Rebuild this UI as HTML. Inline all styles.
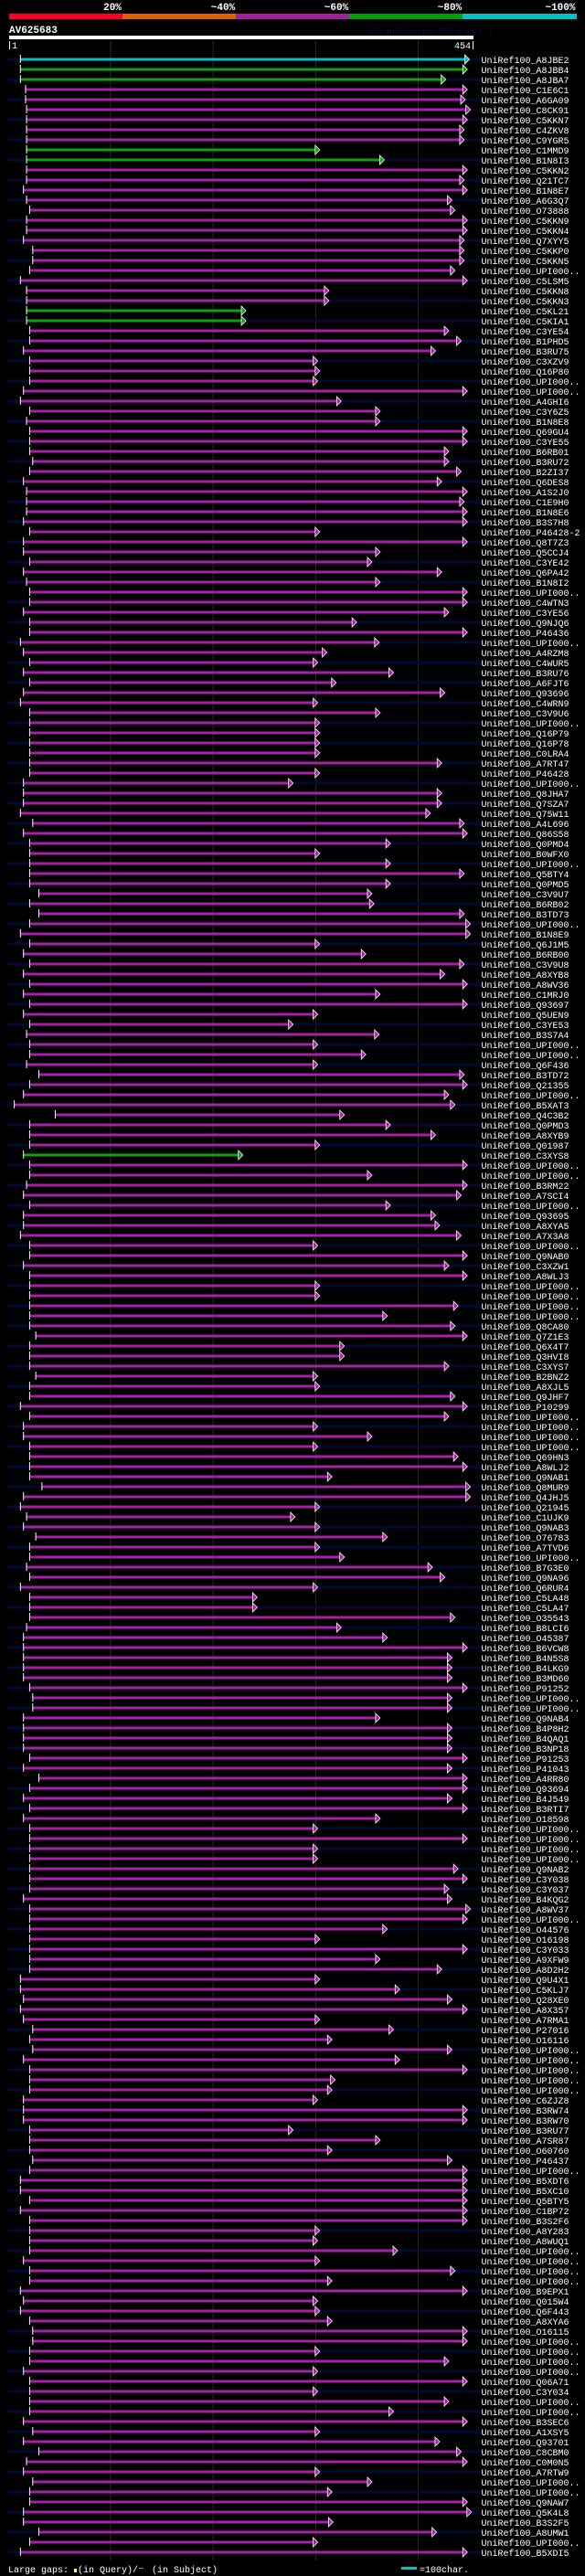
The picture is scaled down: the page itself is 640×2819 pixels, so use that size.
<!DOCTYPE html>
<html><head><meta charset="utf-8">
<style>
html,body{margin:0;padding:0;background:#000;}
body{width:640px;height:2819px;overflow:hidden;}
svg{display:block;}
text{font-family:"Liberation Mono",monospace;}
</style></head>
<body>
<svg id="chart" width="640" height="2819" viewBox="0 0 640 2819" xmlns="http://www.w3.org/2000/svg">
  <rect width="640" height="2819" fill="#000"/>
  <g>
    <rect x="10" y="15" width="124" height="6" fill="#ff0022"/>
    <rect x="134" y="15" width="124" height="6" fill="#e06000"/>
    <rect x="258" y="15" width="124" height="6" fill="#a020a0"/>
    <rect x="382" y="15" width="124" height="6" fill="#00a000"/>
    <rect x="506" y="15" width="125" height="6" fill="#00c0c8"/>
    <text x="123" y="11" fill="#fff" font-size="11" font-weight="bold" text-anchor="middle">20%</text>
    <text x="244" y="11" fill="#fff" font-size="11" font-weight="bold" text-anchor="middle">~40%</text>
    <text x="368" y="11" fill="#fff" font-size="11" font-weight="bold" text-anchor="middle">~60%</text>
    <text x="492" y="11" fill="#fff" font-size="11" font-weight="bold" text-anchor="middle">~80%</text>
    <text x="613" y="11" fill="#fff" font-size="11" font-weight="bold" text-anchor="middle">~100%</text>
  </g>
  <text x="10" y="36" fill="#fff" font-size="11" font-weight="bold">AV625683</text>
  <text x="402" y="37" fill="#0a0a44" font-size="10">AlignView.pm Beta rel.7</text>
  <rect x="10" y="39" width="508" height="4" fill="#fff"/>
  <rect x="10" y="45" width="1" height="9" fill="#fff"/>
  <text x="13" y="53" fill="#fff" font-size="10">1</text>
  <text x="515" y="53" fill="#fff" font-size="10" text-anchor="end">454</text>
  <rect x="517" y="45" width="1" height="9" fill="#fff"/>
  <g id="grid"></g>
  <g id="rows"></g>
  <g>
    <text x="9" y="2815" fill="#fff" font-size="10">Large gaps:</text>
    <rect x="81" y="2811" width="3" height="4" fill="#ffff66"/>
    <text x="85" y="2815" fill="#fff" font-size="10">(in Query)/</text>
    <rect x="152" y="2810" width="5" height="1" fill="#00c0c8"/>
    <text x="166" y="2815" fill="#fff" font-size="10">(in Subject)</text>
    <rect x="439" y="2809" width="17" height="3" fill="#00c0c8"/>
    <text x="459" y="2815" fill="#fff" font-size="10">=100char.</text>
  </g>
</svg>
<script>
const gridTicks = [100, 200, 300, 400];
const hitNames = ["A8JBE2","A8JBB4","A8JBA7","C1E6C1","A6GA09","C8CK91","C5KKN7","C4ZKV8","C9YGR5","C1MMD9","B1N8I3","C5KKN2","Q21TC7","B1N8E7","A6G3Q7","O73888","C5KKN9","C5KKN4","Q7XYY5","C5KKP0","C5KKN5","UPI000..","C5LSM5","C5KKN8","C5KKN3","C5KL21","C5KIA1","C3YE54","B1PHD5","B3RU75","C3XZV9",
"Q16P80","UPI000..","UPI000..","A4GHI6","C3Y6Z5","B1N8E8","Q69GU4","C3YE55","B6RB01","B3RU72","B2ZI37","Q6DES8","A1S2J0","C1E9H0","B1N8E6","B3S7H8","P46428-2","Q8T7Z3","Q5CCJ4","C3YE42","Q6PA42","B1N8I2","UPI000..","C4WTN3","C3YE56","Q9NJQ6","P46436",
"UPI000..","A4RZM8","C4WUR5","B3RU76","A6FJT6","Q93696","C4WRN9","C3V9U6","UPI000..","Q16P79","Q16P78","C0LRA4","A7RT47","P46428","UPI000..","Q8JHA7","Q7SZA7","Q75W11","A4L696","Q86S58","Q0PMD4","B0WFX0","UPI000..","Q5BTY4","Q0PMD5","C3V9U7",
"B6RB02","B3TD73","UPI000..","B1N8E9","Q6J1M5","B6RB00","C3V9U8","A8XYB8","A8WV36","C1MRJ0","Q93697","Q5UEN9","C3YE53","B3S7A4","UPI000..","UPI000..","Q6F436","B3TD72","Q21355","UPI000..","B5XAT3","Q4C3B2","Q0PMD3","A8XYB9","Q01987","C3XYS8",
"UPI000..","UPI000..","B3RM22","A7SCI4","UPI000..","Q93695","A8XYA5","A7X3A8","UPI000..","Q9NAB0","C3XZW1","A8WLJ3","UPI000..","UPI000..","UPI000..","UPI000..","Q8CA80","Q7Z1E3","Q6X4T7","Q3HVI8","C3XYS7","B2BNZ2","A8XJL5","Q9JHF7","P10299","UPI000..","UPI000..",
"UPI000..","UPI000..","Q69HN3","A8WLJ2","Q9NAB1","Q8MUR9","Q4JHJ5","Q21945","C1UJK9","Q9NAB3","O76783","A7TVD6","UPI000..","B7G3E0","Q9NA96","Q6RUR4","C5LA48","C5LA47","O35543","B8LCI6","O45387","B6VCW8","B4N5S8","B4LKG9","B3MD60","P91252",
"UPI000..","UPI000..","Q9NAB4","B4P8H2","B4QAQ1","B3NP18","P91253","P41043","A4RR80","Q93694","B4J549","B3RTI7","O18598","UPI000..","UPI000..","UPI000..","UPI000..","Q9NAB2","C3Y038","C3Y037","B4KQG2","A8WV37","UPI000..","O44576","O16198","C3Y033","A9XFW9",
"A8D2H2","Q9U4X1","C5KLJ7","Q28XE0","A8X357","A7RMA1","P27016","O16116","UPI000..","UPI000..","UPI000..","UPI000..","UPI000..","C6ZJZ8","B3RW74","B3RW70","B3RU77","A7SR87","O60760","P46437","UPI000..","B5XDT6","B5XC10","Q5BTY5","C1BP72","B3S2F6","A8Y283",
"A8WUQ1","UPI000..","UPI000..","UPI000..","UPI000..","B9EPX1","Q015W4","Q6F443","A8XYA6","O16115","UPI000..","UPI000..","UPI000..","UPI000..","Q06A71","C3Y034","UPI000..","UPI000..","B3SEC6","A1XSY5","Q93701","C8CBM0","C0M0N5","A7RTW9","UPI000..","UPI000..","Q9NAW7",
"Q5K4L8","B3S2F5","A8UMW1","UPI000..","B5XDI5"];
const hitStarts = [12,12,12,17,17,18,18,18,18,18,18,18,18,15,18,21,18,18,15,24,24,21,12,18,18,18,18,21,21,15,21,
21,21,15,12,21,18,21,21,21,24,21,15,18,18,18,15,21,15,15,21,15,18,21,21,15,21,21,
12,15,21,15,21,15,12,21,21,21,21,21,21,21,15,15,15,12,24,15,21,21,21,21,21,30,
21,30,21,12,21,15,21,15,21,15,21,15,21,18,21,21,18,30,21,15,6,46,21,21,21,15,
21,21,18,15,21,15,15,12,21,21,15,21,21,21,21,21,21,27,21,21,21,27,21,21,12,21,15,
15,21,21,21,21,33,15,12,18,15,27,21,21,18,21,12,21,21,21,18,15,15,15,15,15,21,
24,24,15,15,15,15,21,15,30,21,15,21,15,21,21,21,21,21,21,21,15,21,21,21,21,21,21,
21,12,12,15,12,15,24,21,24,15,21,21,21,15,15,15,21,21,21,24,21,12,12,21,12,21,21,
21,21,15,21,21,12,15,12,21,24,24,21,21,15,21,21,21,21,15,24,15,30,18,15,24,21,21,
15,15,30,21,12];
const hitEnds = [450,448,427,448,446,451,448,445,445,304,367,448,445,448,433,436,448,448,445,445,445,436,448,313,313,232,232,430,442,417,302,
304,302,448,325,363,363,448,448,430,430,442,423,448,445,448,448,304,448,363,355,423,363,448,448,430,340,448,
362,311,302,376,320,426,302,363,304,304,304,304,423,304,278,423,423,412,445,448,373,304,373,445,373,355,
357,445,451,451,304,349,445,426,448,363,448,302,278,362,302,349,302,445,448,430,436,328,373,417,304,229,
448,355,448,442,373,417,421,442,302,448,430,448,304,304,439,370,436,448,328,328,430,302,304,436,448,430,302,
355,302,439,448,316,451,451,304,280,304,370,304,328,414,426,302,243,243,436,325,370,448,433,433,433,448,
433,433,363,433,433,433,448,433,448,448,433,448,363,302,448,302,302,439,448,430,433,451,448,370,304,448,363,
423,304,382,433,448,304,376,316,433,382,448,319,316,302,448,448,278,363,316,433,448,448,448,448,448,448,304,
302,380,304,436,316,448,302,304,316,448,448,304,430,302,448,302,430,376,448,304,421,442,448,304,355,316,448,
452,317,418,302,448];
const hitColors = {0:"#00c0c8",1:"#10a010",2:"#10a010",9:"#10a010",10:"#10a010",25:"#10a010",26:"#10a010",109:"#10a010"};

const X0 = 10, RES = 1.1214, ROW0 = 65, ROWH = 11, NAMEX = 526.5;
function xScale(p){ return X0 + (p - 1) * RES; }
function yRow(i){ return ROW0 + i * ROWH; }
const NS = "http://www.w3.org/2000/svg";
function mk(tag, attrs){ const e = document.createElementNS(NS, tag); for (const k in attrs) e.setAttribute(k, attrs[k]); return e; }

const grid = document.getElementById("grid");
gridTicks.forEach(t => {
  const l = mk("line", {x1: xScale(t), x2: xScale(t), y1: 44, y2: 2802, stroke: "#2e2c10", "stroke-width": 1});
  
  
  grid.appendChild(l);
});

const rows = document.getElementById("rows");
hitNames.forEach((nm, i) => {
  const y = yRow(i);
  const g = mk("g", {});
  
  
  const col = hitColors[i] || "#a820a8";
  if (i % 2 === 0) {
    const bg = mk("rect", {x: 8, y: y - 1.5, width: NAMEX - 8, height: 3, fill: "#000a30"});
    
    
    g.appendChild(bg);
  }
  const xs = xScale(hitStarts[i]), xe = xScale(hitEnds[i]);
  const bar = mk("rect", {x: xs, y: y - 1.5, width: Math.max(0, xe - 5 - xs), height: 3, fill: col});
  
  
  g.appendChild(bar);
  const tick = mk("rect", {x: xs - 0.5, y: y - 5, width: 1, height: 9, fill: "#fff"});
  
  
  g.appendChild(tick);
  const arr = mk("polygon", {points: `${xe-5},${y-5} ${xe},${y} ${xe-5},${y+5}`, fill: col, stroke: "#fff", "stroke-width": 0.8});
  
  
  g.appendChild(arr);
  const t = mk("text", {x: NAMEX, y: y + 4, fill: "#fff", "font-size": 10});
  t.textContent = "UniRef100_" + nm;
  
  
  g.appendChild(t);
  rows.appendChild(g);
});
</script>
</body></html>
